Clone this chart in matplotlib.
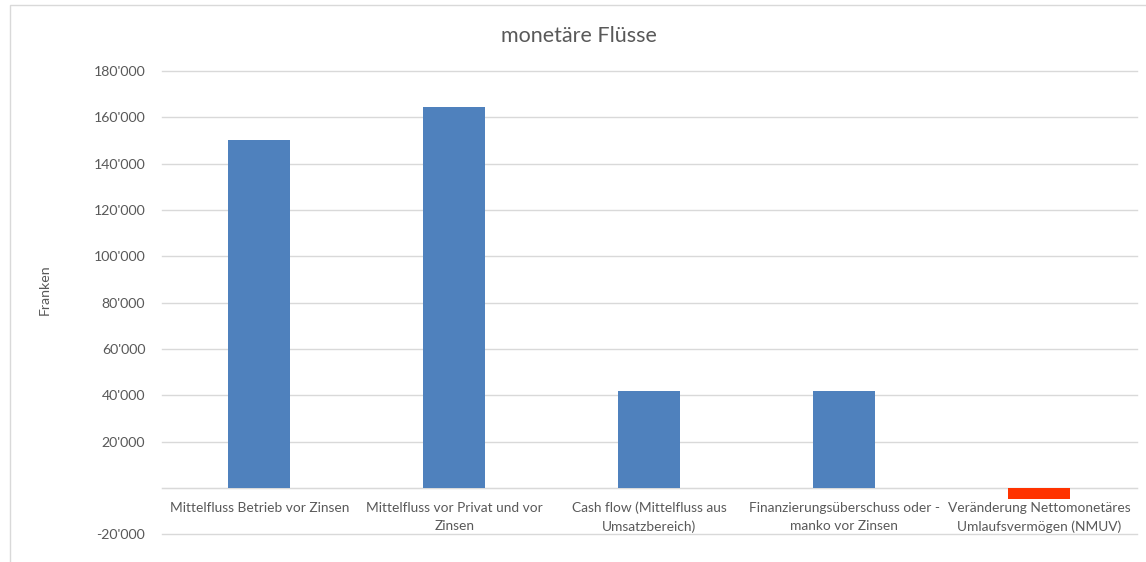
import matplotlib
matplotlib.use("Agg")
import matplotlib.pyplot as plt
from matplotlib.ticker import FuncFormatter, MultipleLocator
from matplotlib.patches import Rectangle

categories = [
    "Mittelfluss Betrieb vor Zinsen",
    "Mittelfluss vor Privat und vor\nZinsen",
    "Cash flow (Mittelfluss aus\nUmsatzbereich)",
    "Finanzierungsüberschuss oder -\nmanko vor Zinsen",
    "Veränderung Nettomonetäres\nUmlaufsvermögen (NMUV)",
]
values = [150000, 164500, 42000, 42000, -4600]
bar_colors = ["#4F81BD", "#4F81BD", "#4F81BD", "#4F81BD", "#FF3300"]
title = "monetäre Flüsse"
ylabel = "Franken"

plt.rcParams["font.family"] = ["Lato", "DejaVu Sans"]
txt = "#595959"

fig = plt.figure(figsize=(11.46, 5.62), dpi=100)
ax = fig.add_axes([162 / 1146, 1 - 534.3 / 562, (1136.7 - 162) / 1146, (534.3 - 71) / 562])

x = list(range(len(categories)))
ax.bar(x, values, width=0.318, color=bar_colors, zorder=3)

ax.set_xlim(-0.5, len(categories) - 0.5)
ax.set_ylim(-20000, 180000)
ax.yaxis.set_major_locator(MultipleLocator(20000))


def fmt(v, pos):
    if abs(v) < 1e-6:
        return ""
    s = f"{abs(int(round(v))):,}".replace(",", "'")
    return ("-" if v < 0 else "") + s


ax.yaxis.set_major_formatter(FuncFormatter(fmt))
ax.grid(axis="y", color="#D9D9D9", linewidth=1, zorder=0)
for gl in ax.get_ygridlines():
    gl.set_clip_on(False)
for s in ["top", "right", "left"]:
    ax.spines[s].set_visible(False)
ax.spines["bottom"].set_position(("data", 0))
ax.spines["bottom"].set_color("#D9D9D9")
ax.spines["bottom"].set_zorder(2)

ax.set_xticks(x)
ax.set_xticklabels(categories, fontsize=9.9, color=txt, linespacing=1.6)
ax.tick_params(axis="x", length=0, pad=10)
ax.tick_params(axis="y", length=0, pad=12, labelsize=10.2, labelcolor=txt)

fig.text(579 / 1146, 1 - 36 / 562, title, ha="center", va="center", fontsize=15.5, color=txt)
fig.text(45 / 1146, 1 - 290 / 562, ylabel, ha="center", va="center", rotation=90, fontsize=10.2, color=txt)

fig.patches.append(Rectangle((10 / 1146, -0.1), 1.2, 1 - 5 / 562 + 0.1, transform=fig.transFigure,
                             fill=False, edgecolor="#D9D9D9", linewidth=1))

fig.savefig("out.png", dpi=100)
